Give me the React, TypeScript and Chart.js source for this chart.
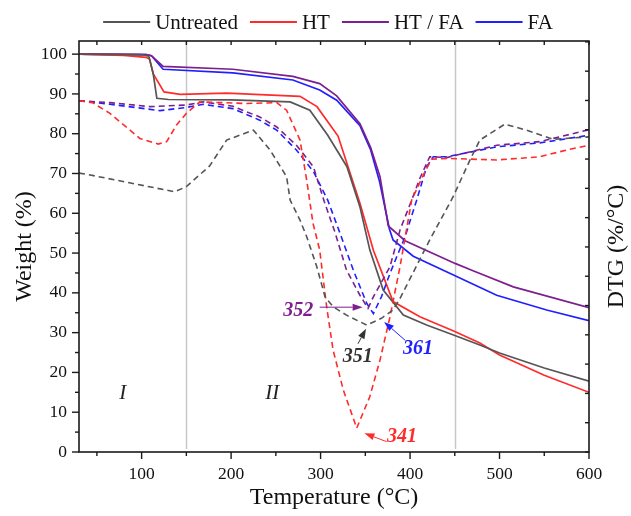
import React, { useEffect, useRef } from 'react';
import { Chart, registerables } from 'chart.js';

Chart.register(...registerables);

// ---------- data ----------
const seriesLabels = ['Untreated', 'HT', 'HT / FA', 'FA'];
const seriesColors = ['#555555', '#ff2b2b', '#7d1f8e', '#2020ff'];

// TG curves (Weight %)
const untreatedTG_T = [30, 100, 108, 113, 117, 130, 200, 266, 288, 308, 329.5, 344, 355, 370, 392.5, 418.5, 450, 478, 500, 550, 600];
const untreatedTG_W = [100, 99.9, 99.5, 95, 88.9, 88.6, 88.5, 88.0, 85.9, 79.6, 71.7, 61.6, 50.8, 40.7, 34.4, 31.9, 29.3, 26.9, 24.9, 21.1, 17.8];

const htTG_T = [30, 80, 105, 109, 113, 125, 143, 195, 277, 296, 319.5, 344, 359, 381, 411, 450, 478, 500, 550, 600];
const htTG_W = [100, 99.7, 99.2, 98.7, 95, 90.5, 89.9, 90.2, 89.4, 86.8, 79.4, 62.5, 50.7, 37.8, 34, 30.3, 27.4, 24.4, 19.3, 15];

const htfaTG_T = [30, 105, 111, 124, 202, 269, 299, 318, 344, 356, 366.4, 375.7, 394.4, 450.3, 469, 515.4, 600];
const htfaTG_W = [100, 99.9, 99.6, 96.9, 96.2, 94.4, 92.6, 89.5, 82.5, 76.5, 69.2, 56.8, 53.1, 47.4, 45.7, 41.5, 36.3];

const faTG_T = [30, 105, 111, 124, 202, 269, 299, 318, 344, 356, 366, 377, 381, 403.6, 450.3, 496.8, 552.7, 600];
const faTG_W = [100, 99.9, 99.6, 96.2, 95.3, 93.5, 91, 88.4, 82, 75.9, 67.9, 56, 53.3, 49.2, 44.3, 39.4, 35.7, 33];

// DTG curves (drawn in the weight-axis frame)
const untreatedDTG_T = [30, 38.6, 137, 150, 176, 195, 225, 243.5, 262, 266, 277, 284.5, 295.7, 305, 314, 329, 351.5, 368, 381, 389, 422, 448, 467, 478, 506, 530, 560, 600];
const untreatedDTG_V = [70.1, 69.8, 65.4, 66.7, 71.9, 78.4, 80.9, 75.9, 69.2, 63.3, 58.3, 54.1, 46.6, 39, 36.5, 34.4, 31.9, 33.6, 35.7, 38.7, 53.3, 64.1, 73.4, 78.4, 82.4, 80.9, 78.6, 79.2];

const htDTG_T = [30, 45, 64.6, 87, 98, 118.6, 128, 139, 150, 165, 217, 251, 262, 277, 284.5, 291.5, 299, 306.8, 314, 325.4, 340.4, 355, 366.4, 377.6, 388.8, 401.8, 414.8, 424, 441, 496.8, 545, 575, 600];
const htDTG_V = [88.3, 87.8, 85.1, 80.9, 78.8, 77.4, 78, 82.2, 85.1, 88, 87.6, 87.8, 85.9, 78.4, 68.3, 57.5, 50.8, 36.5, 25.6, 15.6, 6, 13.9, 23.1, 34, 46.6, 63.3, 69.6, 73.6, 73.8, 73.4, 74.2, 75.9, 77.1];

const htfaDTG_T = [30, 64.6, 109, 150, 168.6, 202, 232, 251, 273, 292, 304, 316, 329, 344, 353, 359, 377.6, 388.8, 401.8, 411, 422, 441, 497, 545, 600];
const htfaDTG_V = [88.3, 87.8, 86.8, 87.2, 88.0, 86.9, 84.2, 81.7, 77.1, 71.7, 63, 55.3, 45.7, 39.4, 36.1, 39, 46.6, 55.8, 63.3, 68.8, 74.2, 74, 77.1, 78, 81];

const faDTG_T = [30, 64.6, 120.5, 150, 168.6, 202, 232, 251, 273, 292, 308, 321.7, 336.6, 351.5, 359, 368, 377.6, 385, 394.4, 407.4, 418.5, 426, 441, 497, 545, 600];
const faDTG_V = [88.3, 87.4, 85.8, 86.6, 87.4, 86.3, 83.4, 80.9, 75.9, 70.5, 63.3, 55, 45.7, 37.4, 34.8, 39, 44.9, 49, 54.1, 63.3, 71.7, 74.2, 74.2, 76.7, 77.7, 79.6];

// axis ranges / ticks
const xMin = 30, xMax = 600, xStep = 100, xMinorStep = 50;
const yMin = 0, yMax = 103.3, yStep = 10, yMinorStep = 5;
const y2Max = 14.03;
const regionLines = [150, 450];

// annotations (data coordinates)
const regionLabels = [
  { text: 'I', x: 79, y: 14.8 },
  { text: 'II', x: 246, y: 14.8 },
];
const peakLabels = [
  { text: '352', color: '#7d1f8e', tx: 275, ty: 35.4, ax1: 299, ay1: 36.4, ax2: 347, ay2: 36.4 },
  { text: '351', color: '#333333', tx: 341.6, ty: 23.9, ax1: 341.8, ay1: 27.2, ax2: 350.8, ay2: 31 },
  { text: '361', color: '#2020ff', tx: 409, ty: 26, ax1: 394.4, ay1: 28.1, ax2: 371, ay2: 32.7 },
  { text: '341', color: '#ff2b2b', tx: 391, ty: 3.8, ax1: 373.8, ay1: 2.6, ax2: 349, ay2: 4.7 },
];

const FONT = "'Liberation Serif', 'Times New Roman', serif";

const pts = (t: number[], v: number[]) => t.map((x, i) => ({ x, y: v[i] }));

const decorPlugin = {
  id: 'decor',
  beforeDatasetsDraw(chart: any) {
    const { ctx, chartArea: a, scales } = chart;
    ctx.save();
    ctx.strokeStyle = '#c8c8c8';
    ctx.lineWidth = 1.5;
    regionLines.forEach((v) => {
      const px = Math.round(scales.x.getPixelForValue(v)) + 0.5;
      ctx.beginPath();
      ctx.moveTo(px, a.top);
      ctx.lineTo(px, a.bottom - 3);
      ctx.stroke();
    });
    ctx.restore();
  },
  afterDatasetsDraw(chart: any) {
    const { ctx, chartArea: a, scales } = chart;
    const X = scales.x, Y = scales.y, Y2 = scales.y2;
    ctx.save();
    // frame
    ctx.strokeStyle = '#1a1a1a';
    ctx.lineWidth = 1.6;
    ctx.strokeRect(a.left, a.top, a.right - a.left, a.bottom - a.top);
    // x ticks
    ctx.lineWidth = 1.4;
    for (let v = xMinorStep; v <= xMax; v += xMinorStep) {
      if (v < xMin) continue;
      const px = X.getPixelForValue(v);
      const major = v % xStep === 0;
      const lb = major ? 7 : 4;
      ctx.beginPath();
      ctx.moveTo(px, a.bottom);
      ctx.lineTo(px, a.bottom + lb);
      ctx.moveTo(px, a.top);
      ctx.lineTo(px, a.top + 4);
      ctx.stroke();
    }
    // y ticks
    for (let v = yMin; v <= 100; v += yMinorStep) {
      const py = Y.getPixelForValue(v);
      const major = v % yStep === 0;
      const l = major ? 7 : 4;
      ctx.beginPath();
      ctx.moveTo(a.left, py);
      ctx.lineTo(a.left - l, py);
      ctx.stroke();
    }
    // right ticks
    Y2.ticks.forEach((t: any) => {
      const py = Y2.getPixelForValue(t.value);
      ctx.beginPath();
      ctx.moveTo(a.right, py);
      ctx.lineTo(a.right - 4, py);
      ctx.stroke();
    });
    // right title
    ctx.fillStyle = '#111';
    ctx.font = `24px ${FONT}`;
    ctx.textAlign = 'center';
    ctx.textBaseline = 'middle';
    ctx.translate(617, (a.top + a.bottom) / 2);
    ctx.rotate(-Math.PI / 2);
    ctx.fillText('DTG (%/\u00B0C)', 0, 0);
    ctx.restore();

    // region labels
    ctx.save();
    ctx.fillStyle = '#222';
    ctx.font = `italic 21px ${FONT}`;
    ctx.textAlign = 'center';
    ctx.textBaseline = 'middle';
    regionLabels.forEach((r) => {
      ctx.fillText(r.text, X.getPixelForValue(r.x), Y.getPixelForValue(r.y));
    });
    // peak labels with arrows
    peakLabels.forEach((p) => {
      ctx.fillStyle = p.color;
      ctx.strokeStyle = p.color;
      ctx.font = `italic bold 20px ${FONT}`;
      ctx.fillText(p.text, X.getPixelForValue(p.tx), Y.getPixelForValue(p.ty));
      const x1 = X.getPixelForValue(p.ax1), y1 = Y.getPixelForValue(p.ay1);
      const x2 = X.getPixelForValue(p.ax2), y2 = Y.getPixelForValue(p.ay2);
      const ang = Math.atan2(y2 - y1, x2 - x1);
      const hl = 10, hw = 3.5;
      const bx = x2 - hl * Math.cos(ang), by = y2 - hl * Math.sin(ang);
      ctx.lineWidth = 1;
      ctx.beginPath();
      ctx.moveTo(x1, y1);
      ctx.lineTo(bx, by);
      ctx.stroke();
      ctx.beginPath();
      ctx.moveTo(x2, y2);
      ctx.lineTo(bx + hw * Math.sin(ang), by - hw * Math.cos(ang));
      ctx.lineTo(bx - hw * Math.sin(ang), by + hw * Math.cos(ang));
      ctx.closePath();
      ctx.fill();
    });
    ctx.restore();

    // legend
    ctx.save();
    ctx.font = `21px ${FONT}`;
    ctx.textBaseline = 'middle';
    ctx.textAlign = 'left';
    const lineLen = 47, gapText = 5, gapItem = 12;
    const items = chart.data.datasets.filter((d: any) => d.inLegend);
    const widths = items.map((d: any) => lineLen + gapText + ctx.measureText(d.label).width);
    const total = widths.reduce((s: number, w: number) => s + w, 0) + gapItem * (items.length - 1);
    let x = 328 - total / 2;
    const ly = 22;
    items.forEach((d: any, i: number) => {
      ctx.strokeStyle = d.borderColor;
      ctx.lineWidth = 2;
      ctx.beginPath();
      ctx.moveTo(x, ly);
      ctx.lineTo(x + lineLen, ly);
      ctx.stroke();
      ctx.fillStyle = '#111';
      ctx.fillText(d.label, x + lineLen + gapText, ly + 1);
      x += widths[i] + gapItem;
    });
    ctx.restore();
  },
};

export default function App() {
  const ref = useRef<HTMLCanvasElement | null>(null);

  useEffect(() => {
    if (!ref.current) return;
    const tg = [
      [untreatedTG_T, untreatedTG_W],
      [htTG_T, htTG_W],
      [htfaTG_T, htfaTG_W],
      [faTG_T, faTG_W],
    ];
    const dtg = [
      [untreatedDTG_T, untreatedDTG_V],
      [htDTG_T, htDTG_V],
      [htfaDTG_T, htfaDTG_V],
      [faDTG_T, faDTG_V],
    ];
    const datasets: any[] = [];
    dtg.forEach(([t, v], i) => {
      datasets.push({
        label: seriesLabels[i] + ' DTG',
        data: pts(t, v),
        borderColor: seriesColors[i],
        backgroundColor: seriesColors[i],
        borderWidth: 1.6,
        borderDash: [6, 4],
        pointRadius: 0,
        tension: 0,
        inLegend: false,
      });
    });
    tg.forEach(([t, v], i) => {
      datasets.push({
        label: seriesLabels[i],
        data: pts(t, v),
        borderColor: seriesColors[i],
        backgroundColor: seriesColors[i],
        borderWidth: 1.7,
        pointRadius: 0,
        tension: 0,
        inLegend: true,
      });
    });

    const tickFont = { family: FONT, size: 17.5 };
    const titleFont = { family: FONT, size: 24 };

    const chart = new Chart(ref.current, {
      type: 'line',
      data: { datasets },
      options: {
        animation: false,
        responsive: false,
        maintainAspectRatio: false,
        layout: { padding: { top: 41, left: 0, right: 0, bottom: 0 } },
        plugins: { legend: { display: false }, tooltip: { enabled: false } },
        scales: {
          x: {
            type: 'linear',
            min: xMin,
            max: xMax,
            ticks: { stepSize: xStep, includeBounds: false, font: tickFont, color: '#111', padding: 12, maxRotation: 0 },
            grid: { display: false, drawTicks: false },
            border: { display: false },
            title: { display: true, text: 'Temperature (\u00B0C)', font: titleFont, color: '#111', padding: { top: 0, bottom: 4 } },
            afterFit: (s: any) => { s.height = 64; },
          },
          y: {
            type: 'linear',
            min: yMin,
            max: yMax,
            ticks: { stepSize: yStep, includeBounds: false, font: tickFont, color: '#111', padding: 12 },
            grid: { display: false, drawTicks: false },
            border: { display: false },
            title: { display: true, text: 'Weight (%)', font: titleFont, color: '#111', padding: { top: 10, bottom: 0 } },
            afterFit: (s: any) => { s.width = 79; },
          },
          y2: {
            type: 'linear',
            position: 'right',
            min: 0,
            max: y2Max,
            ticks: { display: false, stepSize: 1, includeBounds: false },
            grid: { display: false, drawTicks: false },
            border: { display: false },
            afterFit: (s: any) => { s.width = 42; },
          },
        },
      } as any,
      plugins: [decorPlugin],
    });
    return () => chart.destroy();
  }, []);

  return (
    <div style={{ position: 'absolute', left: 0, top: 0, width: 631, height: 516, background: '#fff' }}>
      <canvas ref={ref} width={631} height={516} style={{ width: 631, height: 516, display: 'block' }} />
    </div>
  );
}
